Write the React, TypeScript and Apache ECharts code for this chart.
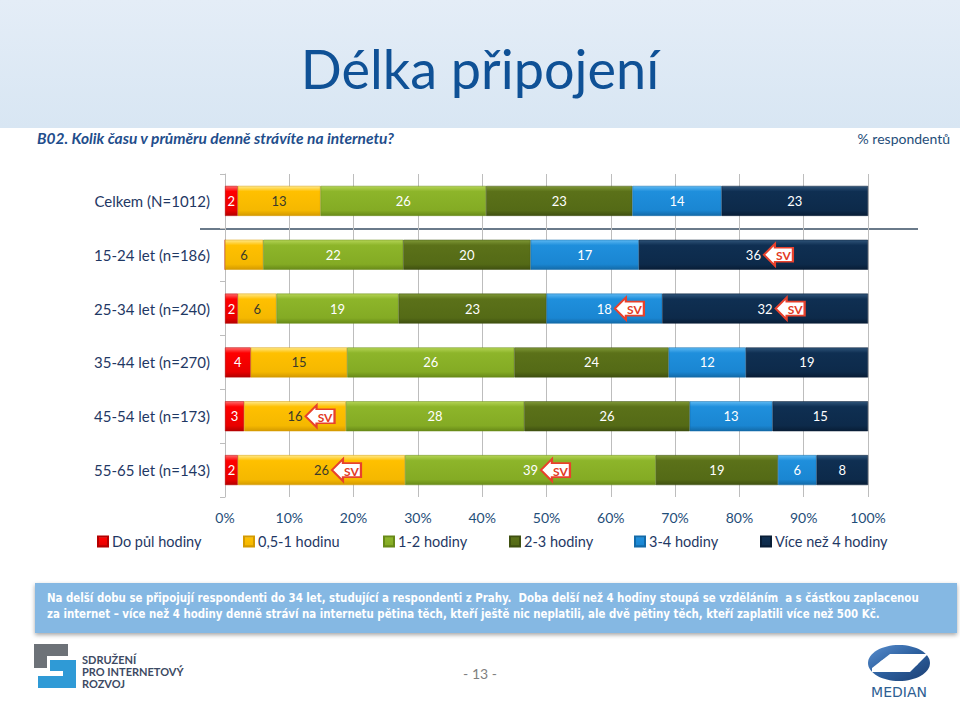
import React, { useEffect, useRef } from "react";
import * as echarts from "echarts";

const categories = [
  "Celkem (N=1012)",
  "15-24 let (n=186)",
  "25-34 let (n=240)",
  "35-44 let (n=270)",
  "45-54 let (n=173)",
  "55-65 let (n=143)",
];
const seriesNames = [
  "Do půl hodiny",
  "0,5-1 hodinu",
  "1-2 hodiny",
  "2-3 hodiny",
  "3-4 hodiny",
  "Více než 4 hodiny",
];
const doPulHodiny = [2, 0, 2, 4, 3, 2];
const pulAzHodinu = [13, 6, 6, 15, 16, 26];
const hodiny12 = [26, 22, 19, 26, 28, 39];
const hodiny23 = [23, 20, 23, 24, 26, 19];
const hodiny34 = [14, 17, 18, 12, 13, 6];
const viceNez4 = [23, 36, 32, 19, 15, 8];
const xTicks = [0, 10, 20, 30, 40, 50, 60, 70, 80, 90, 100];
// significant difference markers: [series index, category index]
const svMarks = [
  [5, 1],
  [4, 2],
  [5, 2],
  [1, 4],
  [1, 5],
  [2, 5],
];

const rawSeries = [doPulHodiny, pulAzHodinu, hodiny12, hodiny23, hodiny34, viceNez4];

const gradients = [
  ["#ff6b6b", "#ff0000", "#e80000", "#b40000"],
  ["#ffe98a", "#ffc000", "#f5b800", "#d49a00"],
  ["#b4d455", "#8db52a", "#84ab24", "#688a18"],
  ["#7f9836", "#5b7119", "#546a16", "#3f5010"],
  ["#5cb8f2", "#1f8fdc", "#1a86d2", "#136aa8"],
  ["#2f5479", "#0f2f52", "#0d2a4a", "#081d36"],
];
const labelColors = ["#ffffff", "#3a3a2a", "#ffffff", "#ffffff", "#ffffff", "#ffffff"];
const legendLefts = [92, 238, 378, 504, 629, 755];

function grad(c: string[]) {
  return {
    type: "linear",
    x: 0,
    y: 0,
    x2: 0,
    y2: 1,
    colorStops: [
      { offset: 0, color: c[0] },
      { offset: 0.18, color: c[1] },
      { offset: 0.82, color: c[2] },
      { offset: 1, color: c[3] },
    ],
  };
}

const FONT = "Lato, 'Open Sans', sans-serif";
const NOTE_FONT = "bold 12.5px 'DejaVu Sans Condensed', 'Liberation Sans Narrow', sans-serif";

export default function App() {
  const ref = useRef<HTMLDivElement>(null);
  useEffect(() => {
    if (!ref.current) return;
    const chart = echarts.init(ref.current, null, { renderer: "svg" });
    const totals = categories.map((_, i) =>
      rawSeries.reduce((s, arr) => s + arr[i], 0)
    );
    const norm = rawSeries.map((arr) => arr.map((v, i) => (v / totals[i]) * 100));

    const barSeries = rawSeries.map((arr, si) => ({
      type: "bar",
      name: seriesNames[si],
      stack: "total",
      barWidth: 30,
      data: norm[si],
      itemStyle: {
        color: grad(gradients[si]),
        borderColor: gradients[si][3],
        borderWidth: 0.5,
      },
      label: {
        show: true,
        position: "inside",
        fontSize: 13,
        fontFamily: FONT,
        color: labelColors[si],
        formatter: (p: any) => (arr[p.dataIndex] === 0 ? "" : String(arr[p.dataIndex])),
      },
      emphasis: { disabled: true },
      z: 2,
    }));

    const svData = svMarks.map(([si, ci]) => {
      let cum = 0;
      for (let k = 0; k < si; k++) cum += norm[k][ci];
      return [cum + norm[si][ci] / 2, ci];
    });

    const option: any = {
      animation: false,
      textStyle: { fontFamily: FONT },
      title: {
        text: "Délka připojení",
        left: "center",
        top: 36,
        textStyle: { fontSize: 54, fontWeight: "normal", color: "#0f5196", fontFamily: FONT },
      },
      grid: { left: 225, right: 92, top: 174, height: 323 },
      legend: seriesNames.map((n, i) => ({
        data: [n],
        left: legendLefts[i],
        top: 529,
        icon: "rect",
        itemWidth: 10,
        itemHeight: 10,
        itemGap: 5,
        textStyle: { fontSize: 14.5, color: "#1f3864", fontFamily: FONT, padding: [0, 0, 0, -1] },
        selectedMode: false,
      })),
      xAxis: {
        type: "value",
        min: 0,
        max: 100,
        interval: 10,
        axisLine: { show: false },
        axisTick: { show: false },
        splitLine: { show: true, lineStyle: { color: "#bdbdbd", width: 1 } },
        axisLabel: {
          fontSize: 14,
          color: "#1f4e79",
          margin: 13,
          fontFamily: FONT,
          formatter: (v: number) => (xTicks.includes(v) ? v + "%" : ""),
        },
      },
      yAxis: {
        type: "category",
        inverse: true,
        data: categories,
        axisLine: { show: true, lineStyle: { color: "#bdbdbd" } },
        axisTick: { show: true, length: 5, lineStyle: { color: "#bdbdbd" } },
        axisLabel: { fontSize: 15, color: "#1f3864", margin: 15, fontFamily: FONT },
      },
      series: [
        ...barSeries,
        {
          type: "scatter",
          name: "SV",
          data: svData,
          symbol: "path://M0,11 L11,0 L11,4 L29,4 L29,18 L11,18 L11,22 Z",
          symbolSize: [29, 22],
          symbolOffset: [25, 0],
          itemStyle: { color: "#ffffff", borderColor: "#e8412c", borderWidth: 2, opacity: 1 },
          label: {
            show: true,
            position: "inside",
            offset: [5, 1],
            formatter: "SV",
            color: "#e23a24",
            fontSize: 12,
            fontWeight: "bold",
            fontFamily: FONT,
          },
          emphasis: { disabled: true },
          z: 5,
        },
      ],
      graphic: [
        {
          type: "rect",
          z: -10,
          silent: true,
          shape: { x: 0, y: 0, width: 960, height: 128 },
          style: {
            fill: {
              type: "linear",
              x: 0,
              y: 0,
              x2: 0,
              y2: 1,
              colorStops: [
                { offset: 0, color: "#e4edf7" },
                { offset: 1, color: "#d8e6f3" },
              ],
            },
          },
        },
        {
          type: "text",
          left: 37,
          top: 130,
          style: {
            text: "B02. Kolik času v průměru denně strávíte na internetu?",
            font: "italic bold 15.5px " + FONT,
            fill: "#1f4e8c",
          },
        },
        {
          type: "text",
          right: 10,
          top: 131,
          style: { text: "% respondentů", font: "14px " + FONT, fill: "#1f4e79" },
        },
        {
          type: "line",
          silent: true,
          shape: { x1: 200, y1: 229, x2: 918, y2: 229 },
          style: { stroke: "#6a7a8a", lineWidth: 2 },
        },
        {
          type: "rect",
          silent: true,
          shape: { x: 35, y: 583, width: 922, height: 50 },
          style: {
            fill: "#85b8e3",
            shadowBlur: 4,
            shadowColor: "rgba(0,0,0,0.35)",
            shadowOffsetY: 2,
          },
        },
        {
          type: "text",
          x: 47,
          y: 598,
          scaleX: 0.91,
          style: {
            text: "Na delší dobu se připojují respondenti do 34 let, studující a respondenti z Prahy.  Doba delší než 4 hodiny stoupá se vzděláním  a s částkou zaplacenou",
            font: NOTE_FONT,
            fill: "#ffffff",
            verticalAlign: "middle",
          },
        },
        {
          type: "text",
          x: 47,
          y: 614,
          scaleX: 0.91,
          style: {
            text: "za internet – více než 4 hodiny denně stráví na internetu pětina těch, kteří ještě nic neplatili, ale dvě pětiny těch, kteří zaplatili více než 500 Kč.",
            font: NOTE_FONT,
            fill: "#ffffff",
            verticalAlign: "middle",
          },
        },
        // SPIR logo
        {
          type: "polygon",
          silent: true,
          shape: {
            points: [
              [34, 644], [68, 644], [68, 656], [47, 656], [47, 668], [34, 668],
            ],
          },
          style: { fill: "#6d7278" },
        },
        {
          type: "polygon",
          silent: true,
          shape: {
            points: [
              [50, 660], [76, 660], [76, 688], [38, 688], [38, 676], [63, 676], [63, 671], [50, 671],
            ],
          },
          style: { fill: "#2f9ad6" },
        },
        {
          type: "text",
          left: 82,
          top: 654,
          style: { text: "SDRUŽENÍ", font: "bold 11px " + FONT, fill: "#3d4a63" },
        },
        {
          type: "text",
          left: 82,
          top: 666,
          style: { text: "PRO INTERNETOVÝ", font: "bold 11px " + FONT, fill: "#3d4a63" },
        },
        {
          type: "text",
          left: 82,
          top: 678,
          style: { text: "ROZVOJ", font: "bold 11px " + FONT, fill: "#3d4a63" },
        },
        {
          type: "text",
          x: 480,
          y: 673,
          style: {
            text: "- 13 -",
            font: "14px " + FONT,
            fill: "#7f7f7f",
            align: "center",
            verticalAlign: "middle",
          },
        },
        // MEDIAN logo
        {
          type: "ellipse",
          silent: true,
          shape: { cx: 899, cy: 663, rx: 31, ry: 18 },
          style: {
            fill: {
              type: "linear",
              x: 0,
              y: 0,
              x2: 1,
              y2: 1,
              colorStops: [
                { offset: 0, color: "#5a8fcf" },
                { offset: 0.5, color: "#2c5f9e" },
                { offset: 1, color: "#1c3f73" },
              ],
            },
          },
        },
        {
          type: "polygon",
          silent: true,
          shape: {
            points: [[872, 668], [890, 654], [928, 654], [910, 672], [872, 672]],
          },
          style: { fill: "#ffffff" },
        },
        {
          type: "ellipse",
          silent: true,
          shape: { cx: 899, cy: 663, rx: 19, ry: 6 },
          style: { fill: "#ffffff" },
        },
        {
          type: "text",
          x: 899,
          y: 692,
          style: {
            text: "MEDIAN",
            font: "14px 'DejaVu Sans', sans-serif",
            fill: "#2d5e92",
            align: "center",
            verticalAlign: "middle",
          },
        },
      ],
    };
    chart.setOption(option);
    return () => chart.dispose();
  }, []);
  return (
    <div
      ref={ref}
      style={{ position: "fixed", left: 0, top: 0, width: 960, height: 702, background: "#ffffff" }}
    />
  );
}
